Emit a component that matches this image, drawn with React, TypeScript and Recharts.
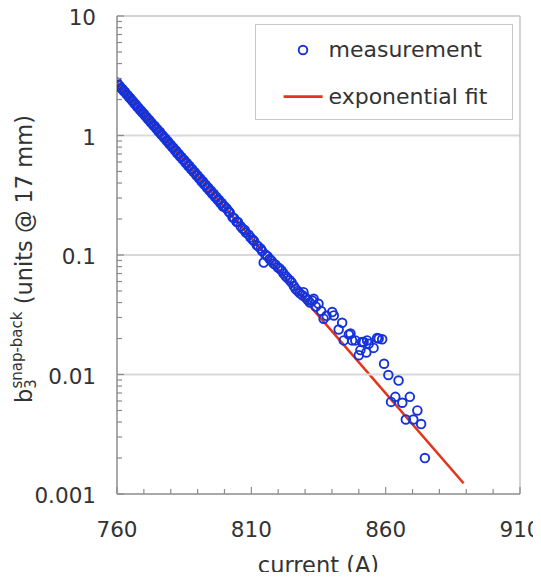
import React from 'react';
import { ComposedChart, XAxis, YAxis, Scatter, Line, ReferenceLine, Legend } from 'recharts';

// measured b3 snap-back vs current
const measCurrent = [
  760, 760.5, 761, 761.5, 762, 762.5, 763, 763.5, 764, 764.5,
  765, 765.5, 766, 766.5, 767, 767.5, 768, 768.5, 769, 769.5,
  770, 770.5, 771, 771.5, 772, 772.5, 773, 773.5, 774, 774.5,
  775, 775.5, 776, 776.5, 777, 777.5, 778, 778.5, 779, 779.5,
  780, 780.5, 781, 781.5, 782, 782.5, 783, 783.5, 784, 784.5,
  785, 785.5, 786, 786.5, 787, 787.5, 788, 788.5, 789, 789.5,
  790, 790.5, 791, 791.5, 792, 792.5, 793, 793.5, 794, 794.5,
  795, 795.5, 796, 796.5, 797, 797.5, 798, 798.5, 799, 799.5,
  800, 800.8, 801.5, 802, 803, 803.6, 804.5, 805, 806, 806.8,
  807.5, 808, 809, 809.7, 810.5, 811, 812, 812.6, 813.5, 814,
  814.6, 815.2, 816, 816.8, 817.5, 818.3, 819, 819.8, 820.5, 821.3,
  822, 822.8, 823.5, 824.3, 825, 825.8, 826.5, 827.3, 828, 829,
  829.4, 830.2, 831, 831.8, 832.7, 833.2, 834, 835, 836, 836.9,
  838, 840.1, 840.7, 842.5, 843.8, 844.4, 846.3, 846.9, 847.5, 848.7,
  850, 850.6, 851.2, 851.8, 852.8, 853.1, 853.7, 855.5, 856.8, 857.4,
  858.7, 859.4, 861, 864.8, 863.6, 862, 866.2, 869, 871.8, 867.5,
  870.3, 873.2, 874.6,
];
const measB3 = [
  2.78, 2.66, 2.6, 2.5, 2.45, 2.36, 2.31, 2.22, 2.17, 2.09,
  2.05, 1.97, 1.93, 1.85, 1.82, 1.74, 1.71, 1.64, 1.61, 1.55,
  1.52, 1.46, 1.43, 1.37, 1.35, 1.29, 1.27, 1.22, 1.2, 1.15,
  1.13, 1.08, 1.07, 1.02, 1.0, 0.96, 0.945, 0.905, 0.89, 0.85,
  0.838, 0.8, 0.79, 0.752, 0.745, 0.708, 0.702, 0.668, 0.662, 0.628,
  0.625, 0.592, 0.588, 0.556, 0.555, 0.524, 0.522, 0.494, 0.492, 0.465,
  0.464, 0.438, 0.437, 0.412, 0.412, 0.388, 0.388, 0.366, 0.366, 0.344,
  0.345, 0.324, 0.325, 0.305, 0.306, 0.288, 0.289, 0.271, 0.272, 0.255,
  0.256, 0.245, 0.232, 0.226, 0.207, 0.203, 0.19, 0.189, 0.174, 0.166,
  0.162, 0.154, 0.148, 0.14, 0.134, 0.131, 0.121, 0.118, 0.113, 0.108,
  0.0865, 0.101, 0.0975, 0.0925, 0.0895, 0.085, 0.083, 0.079, 0.077, 0.074,
  0.07, 0.0665, 0.064, 0.0615, 0.059, 0.055, 0.052, 0.05, 0.048, 0.046,
  0.0489, 0.044, 0.042, 0.04, 0.0416, 0.043, 0.037, 0.0391, 0.034, 0.0293,
  0.031, 0.0333, 0.0312, 0.0238, 0.0271, 0.0193, 0.0216, 0.022, 0.0193, 0.0193,
  0.0145, 0.016, 0.0187, 0.0187, 0.0153, 0.0193, 0.0181, 0.0167, 0.0202, 0.02,
  0.0197, 0.0123, 0.0099, 0.0089, 0.0065, 0.0059, 0.0058, 0.0065, 0.005, 0.0042,
  0.0042, 0.00385, 0.002,
];

// exponential fit (straight on the log axis): end points
const fitCurrent = [760, 889];
const fitB3 = [2.75, 0.00123];

const xTicks = [760, 770, 780, 790, 800, 810, 820, 830, 840, 850, 860, 870, 880, 890, 900, 910];
const xLabelTicks = [760, 810, 860, 910];
const yDecades = [0.001, 0.01, 0.1, 1, 10];
const yMinorMultipliers = [2, 3, 4, 5, 6, 7, 8, 9];
const yTicks = yDecades.flatMap((d) => (d === 10 ? [d] : [d, ...yMinorMultipliers.map((m) => d * m)]));

const measData = measCurrent.map((x, i) => ({ x, y: measB3[i] }));
const fitData = fitCurrent.map((x, i) => ({ x, y: fitB3[i] }));

const FONT = '"DejaVu Sans", Verdana, sans-serif';
const TEXT = '#333333';
const AXIS = '#8c8c8c';
const BLUE = '#1533d9';
const RED = '#e4341c';

const XTick = (props: any) => {
  const { x, y, payload } = props;
  const v = payload.value;
  const major = xLabelTicks.includes(v);
  return (
    <g>
      <line x1={x} x2={x} y1={y} y2={y - (major ? 7 : 5)} stroke={AXIS} strokeWidth={1.2} />
      {major && (
        <text x={x} y={y + 43} textAnchor="middle" fontSize={21.5} fill={TEXT} fontFamily={FONT}>
          {v}
        </text>
      )}
    </g>
  );
};

const YTick = (props: any) => {
  const { x, y, payload } = props;
  const v = payload.value;
  const major = yDecades.some((d) => Math.abs(v / d - 1) < 1e-6);
  return (
    <g>
      <line x1={x} x2={x + (major ? 7 : 5)} y1={y} y2={y} stroke={AXIS} strokeWidth={1.2} />
      {major && (
        <text x={x - 21} y={y + 9} textAnchor="end" fontSize={21.5} fill={TEXT} fontFamily={FONT}>
          {String(v)}
        </text>
      )}
    </g>
  );
};

const YLabel = (props: any) => {
  const vb = props.viewBox || { x: 0, y: 16, width: 109, height: 478 };
  const cx = 24;
  const cy = vb.y + vb.height / 2 + 4;
  return (
    <text
      x={cx}
      y={cy}
      transform={`rotate(-90 ${cx} ${cy})`}
      textAnchor="middle"
      fontSize={22.5}
      fill={TEXT}
      fontFamily={FONT}
    >
      <tspan>b</tspan>
      <tspan fontSize={15} dy={4}>3</tspan>
      <tspan fontSize={15} dx={-9.5} dy={-14}>snap-back</tspan>
      <tspan dy={10}> (units @ 17 mm)</tspan>
    </text>
  );
};

const LegendBox = () => (
  <svg width={258} height={96} style={{ display: 'block' }}>
    <rect x={0.5} y={0.5} width={257} height={95} fill="#ffffff" stroke="#c8c8c8" strokeWidth={1} />
    <circle cx={48} cy={26} r={4.3} fill="none" stroke={BLUE} strokeWidth={1.9} />
    <text x={73.5} y={33} fontSize={22} fill={TEXT} fontFamily={FONT}>measurement</text>
    <line x1={28.6} x2={67.6} y1={72.6} y2={72.6} stroke={RED} strokeWidth={2.6} />
    <text x={73.5} y={80} fontSize={22} fill={TEXT} fontFamily={FONT}>exponential fit</text>
  </svg>
);

const Ring = (props: any) => {
  const { cx, cy } = props;
  if (cx == null || cy == null) return null;
  return <circle cx={cx} cy={cy} r={4.3} fill="none" stroke={BLUE} strokeWidth={1.9} />;
};

export default function App() {
  return (
    <div style={{ marginTop: -8, width: 525, height: 572 }}>
      <ComposedChart width={533} height={580} margin={{ top: 16, right: 21, bottom: 0, left: 0 }}>
        <XAxis
          type="number"
          dataKey="x"
          domain={[760, 910]}
          ticks={xTicks}
          interval={0}
          allowDataOverflow
          tick={<XTick />}
          tickLine={false}
          tickSize={0}
          tickMargin={0}
          height={86}
          axisLine={{ stroke: AXIS, strokeWidth: 1.5 }}
          label={{
            value: 'current (A)',
            position: 'insideBottom',
            offset: 7,
            fontSize: 22.5,
            fill: TEXT,
            fontFamily: FONT,
          }}
        />
        <YAxis
          type="number"
          dataKey="y"
          scale="log"
          domain={[0.001, 10]}
          ticks={yTicks}
          interval={0}
          allowDataOverflow
          width={109}
          tick={<YTick />}
          tickLine={false}
          tickSize={0}
          tickMargin={0}
          axisLine={{ stroke: AXIS, strokeWidth: 1.5 }}
          label={<YLabel />}
        />
        <ReferenceLine y={0.01} stroke="#d9d9d9" strokeWidth={2} />
        <ReferenceLine y={0.1} stroke="#d9d9d9" strokeWidth={2} />
        <ReferenceLine y={1} stroke="#d9d9d9" strokeWidth={2} />
        <ReferenceLine y={10} stroke="#c4c4c4" strokeWidth={1.5} />
        <ReferenceLine x={910} stroke="#c4c4c4" strokeWidth={1.5} />
        <Line
          data={fitData}
          dataKey="y"
          type="linear"
          stroke={RED}
          strokeWidth={2.6}
          dot={false}
          activeDot={false}
          isAnimationActive={false}
          legendType="line"
          name="exponential fit"
          {...({ zIndex: 300 } as any)}
        />
        <Scatter
          data={measData}
          dataKey="y"
          shape={<Ring />}
          isAnimationActive={false}
          name="measurement"
          {...({ zIndex: 700 } as any)}
        />
        <Legend
          layout="vertical"
          verticalAlign="middle"
          align="center"
          content={<LegendBox />}
          wrapperStyle={{ left: 247, top: 24, width: 258, height: 96 }}
        />
      </ComposedChart>
    </div>
  );
}
